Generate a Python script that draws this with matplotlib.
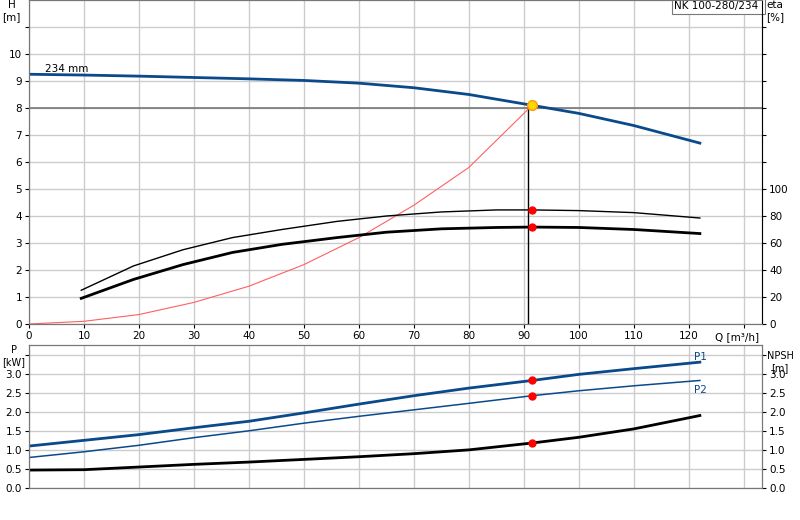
import matplotlib
matplotlib.use("Agg")
import matplotlib.pyplot as plt
import numpy as np

plt.rcParams['font.family'] = ['DejaVu Sans']
plt.rcParams['font.size'] = 7.5

q_h = [0, 10, 20, 30, 40, 50, 60, 70, 80, 91.5, 100, 110, 122]
head = [9.25, 9.22, 9.18, 9.13, 9.08, 9.02, 8.92, 8.75, 8.5, 8.1, 7.8, 7.35, 6.7]
q_eta = [9.5, 19, 28, 37, 46, 56, 65, 75, 85, 91.5, 100, 110, 122]
eta = [19, 33, 44, 53, 59, 64, 68, 70.5, 71.5, 71.8, 71.5, 70, 67]
eta_p = [25, 43, 55, 64, 70, 76, 80, 83, 84.5, 84.5, 84, 82.5, 78.5]
q_sys = [0, 10, 20, 30, 40, 50, 60, 70, 80, 91]
h_sys = [0, 0.1, 0.35, 0.8, 1.4, 2.2, 3.2, 4.4, 5.8, 8.0]
q_p = [0, 10, 20, 30, 40, 50, 60, 70, 80, 91.5, 100, 110, 122]
p1 = [1.1, 1.25, 1.4, 1.58, 1.75, 1.97, 2.2, 2.42, 2.62, 2.82, 2.98, 3.13, 3.3]
p2 = [0.8, 0.95, 1.12, 1.32, 1.5, 1.7, 1.88, 2.05, 2.22, 2.42, 2.55, 2.68, 2.82]
npsh = [0.47, 0.48, 0.55, 0.62, 0.68, 0.75, 0.82, 0.9, 1.0, 1.18, 1.33, 1.55, 1.9]
duty_q, duty_h = 91.5, 8.1
line_q = 90.8

blue = '#0a4a8a'
grid = '#cccccc'
fig = plt.figure(figsize=(8, 5.2), dpi=100)
W, H = 800, 520
ax = fig.add_axes([29/W, 1-324/H, 733/W, 324/H])
bx = fig.add_axes([29/W, 1-488/H, 733/W, 143/H])
xmax = 133.3
for a in (ax, bx):
    a.set_xlim(0, xmax)
    a.set_xticks(range(0, 140, 10))
    a.grid(True, color=grid, lw=1)
    a.set_axisbelow(True)
    for s in a.spines.values():
        s.set_color('#777777')
    a.tick_params(length=3, pad=2, colors='black')

ax.set_ylim(0, 12)
ax.set_yticks(range(0, 12))
ax.set_yticklabels([str(i) for i in range(11)] + [''])
ax.axhline(8, color='#777777', lw=1.2, zorder=1)
ax.plot(q_h, head, color=blue, lw=2, zorder=3)
ax.plot(q_sys, h_sys, color='#ff6060', lw=0.8, zorder=3)
ax.plot([line_q, line_q], [0, 8.0], color='black', lw=1, zorder=2)
ax.plot(q_eta, [e/20 for e in eta], color='black', lw=2, zorder=3)
ax.plot(q_eta, [e/20 for e in eta_p], color='black', lw=1, zorder=3)
ax.plot(duty_q, duty_h, 'o', ms=7, mfc='#ffd700', mec='#ff9900', zorder=5)
ax.plot([duty_q, duty_q], [71.8/20, 84.5/20], 'o', ms=5, color='red', zorder=5)
ax.text(3, 9.35, '234 mm', fontsize=7.5)
ax.set_xticklabels([str(i) for i in range(0, 130, 10)] + [''])
ax.text(xmax-0.5, -0.3, 'Q [m³/h]', ha='right', va='top')
ax.text(-3.2, 11.6, 'H\n[m]', ha='center', va='center', fontsize=7.5)
ax.text(xmax, 11.95, 'NK 100-280/234 ', ha='right', va='top', fontsize=7.5,
        bbox=dict(fc='white', ec='#777777', lw=0.8, pad=2))

ex = ax.twinx()
ex.set_ylim(0, 240)
ex.set_yticks(range(0, 240, 20))
ex.set_yticklabels([str(i) for i in range(0, 120, 20)] + [''] * 6)
ex.tick_params(length=3, pad=2)
for s in ex.spines.values():
    s.set_color('#777777')
ex.spines['right'].set_color('black')
ax.text(xmax + 0.8, 11.6, 'eta\n[%]', ha='left', va='center', fontsize=7.5)

bx.set_ylim(0, 3.75)
bx.set_yticks(np.arange(0, 3.75, 0.5))
bx.set_yticklabels(['0.0', '0.5', '1.0', '1.5', '2.0', '2.5', '3.0', ''])
bx.set_xticklabels([])
bx.tick_params(axis='x', length=0)
bx.plot(q_p, p1, color=blue, lw=2)
bx.plot(q_p, p2, color=blue, lw=1.1)
bx.plot(q_p, npsh, color='black', lw=2)
bx.plot([duty_q] * 3, [2.82, 2.42, 1.18], 'o', ms=5, color='red', zorder=5)
bx.text(121, 3.35, 'P1', color=blue)
bx.text(121, 2.5, 'P2', color=blue)
fig.text(14/W, 1-356/H, 'P\n[kW]', ha='center', va='center', fontsize=7)
nx = bx.twinx()
nx.set_ylim(0, 3.75)
nx.set_yticks(np.arange(0, 3.75, 0.5))
nx.set_yticklabels(['0.0', '0.5', '1.0', '1.5', '2.0', '2.5', '3.0', ''])
nx.tick_params(length=3, pad=2)
for s in nx.spines.values():
    s.set_color('#777777')
fig.text(780/W, 1-362/H, 'NPSH\n[m]', ha='center', va='center', fontsize=7)

fig.savefig('out.png', dpi=100)
